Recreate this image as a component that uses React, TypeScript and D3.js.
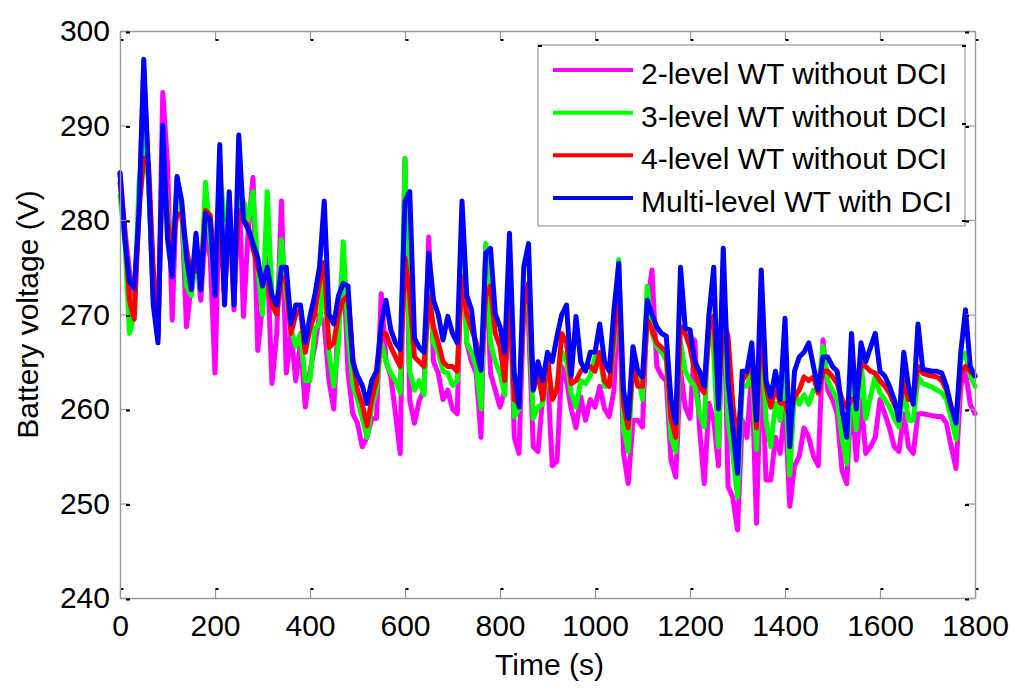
import { useEffect, useRef } from "react";
import * as d3 from "d3";

// sample times (s), every 10 s
const times = d3.range(0, 1801, 10);

const xTickValues = [0, 200, 400, 600, 800, 1000, 1200, 1400, 1600, 1800];
const yTickValues = [240, 250, 260, 270, 280, 290, 300];

const seriesLabels = [
  "2-level WT without DCI",
  "3-level WT without DCI",
  "4-level WT without DCI",
  "Multi-level WT with DCI",
];
const seriesColors = ["#ff00ff", "#00ff00", "#ff0000", "#0000ff"];

// battery voltage (V)
const twoLevel = [
  285, 279, 274.5, 271.5, 281, 296, 285, 272, 267.5, 293.5,
  286, 269.4, 284.5, 281, 268.7, 273, 277, 271.5, 279, 276,
  263.8, 283, 272, 282, 270.5, 284, 269.8, 279, 284.5, 266.2,
  271, 276, 262.7, 268, 282, 263.8, 268, 263, 267, 260.2,
  264, 266.6, 270, 269, 263, 260, 270, 275.5, 264, 259.5,
  258.5, 256, 257, 259, 259, 272.2, 265, 263.5, 259.5, 255.3,
  286.5, 260.9, 258.5, 260.9, 262, 278.2, 265, 263.8, 261, 262,
  260, 259.5, 280, 267, 265, 263.8, 257, 277.2, 263.8, 262,
  260.2, 262, 274.4, 257, 255.3, 270.8, 269.1, 256, 255.5, 261.3,
  263.8, 254, 254.5, 264.5, 263, 260, 258, 261.3, 258.8, 261,
  260.2, 262.4, 260, 259.2, 262, 274, 255.3, 252.1, 258.8, 258.8,
  258.1, 271, 274.7, 264.5, 263.5, 263, 254.6, 252.8, 264, 260.2,
  259, 267.3, 258, 252.1, 260.6, 258.8, 254, 275.8, 251.8, 250.7,
  247.2, 258.8, 257, 264, 247.9, 266.6, 252.5, 252.5, 257, 255.3,
  260.5, 249.7, 254, 255, 258, 257, 255, 254, 267.3, 262,
  261, 259.5, 253.5, 252.1, 261.7, 254.6, 261, 255.3, 256, 257,
  261, 259.5, 258, 256, 255.5, 259.5, 256, 255.3, 259.5, 259.5,
  259.4, 259.3, 259.2, 259.2, 258.5, 256, 253.7, 262.4, 264, 260.5,
  259.5,
];

const threeLevel = [
  282.6, 278, 268, 270, 283.9, 289, 284, 272, 268, 287,
  281, 276, 283, 281, 273, 272, 276, 273, 284, 278,
  272.5, 285, 280, 281, 272, 283, 282, 280, 283, 275,
  270, 283, 272, 270, 277.9, 272, 268.5, 266.6, 268, 263,
  263, 268.5, 269, 274, 266, 262.4, 267, 277.7, 268, 262.5,
  261, 259, 257, 260.2, 262, 267, 265, 263.8, 263, 261.7,
  286.5, 264, 262, 263, 261.5, 274, 267, 266, 264, 263.8,
  262.5, 263, 280, 267, 266, 264.5, 260, 277.5, 267, 265,
  263.8, 261.5, 276.8, 259.2, 260, 270.8, 271.9, 259, 260.2, 260.5,
  264.5, 261, 262.4, 266, 265.2, 261.7, 260.2, 263, 262.7, 263.5,
  265.5, 265.5, 262.4, 262.4, 266.6, 275.8, 258, 255.5, 265, 264,
  261, 273, 268, 266.6, 266, 265.2, 257, 255.5, 267, 264,
  263, 262.4, 259.5, 258.1, 270, 266, 256, 273.7, 258.8, 255.3,
  250.7, 262.4, 262.4, 264, 255.7, 269.4, 258.8, 256, 260.6, 258.8,
  263.4, 253, 262, 260.5, 261.5, 260.5, 262, 262, 266.6, 263,
  262, 261, 257, 254.2, 263, 257.8, 265.2, 259, 261.3, 263.4,
  261.7, 261, 260.2, 259, 258.1, 262.4, 258.8, 258.8, 263.4, 262.7,
  262.5, 262.3, 262, 261.7, 261, 259, 256.8, 265.2, 265.9, 263.5,
  262.4,
];

const fourLevel = [
  284, 279, 271.5, 269.5, 281, 286.5, 286, 275, 268, 287,
  280, 277, 280.7, 280.5, 277, 274, 275, 274, 281, 280.5,
  274, 281, 272, 281, 273, 281, 280, 279.3, 277, 275,
  273.5, 274, 271, 270, 274, 273.5, 268, 270, 270.5, 266,
  268.5, 270, 273.5, 275.5, 266.5, 267, 270, 271.5, 272, 265.5,
  262, 260.5, 258.2, 261, 263, 268, 268, 266.6, 265.5, 264.5,
  276, 272, 265.5, 265, 264.5, 271.9, 268.7, 267, 265, 264.5,
  264.5, 264, 274, 270, 268.5, 267, 264.5, 272, 273, 268,
  266.6, 263, 272.6, 261, 260.6, 271, 273.3, 262, 263.8, 261,
  265.5, 261, 262, 268, 267, 262.7, 263, 264, 264.5, 264.5,
  264, 266, 263, 262.4, 268, 273, 260.5, 258, 264.8, 262.4,
  262.4, 269.4, 268.4, 267, 266.5, 266, 259, 257, 268.7, 268,
  266.5, 264, 262.5, 261.7, 268.4, 269.8, 261, 269.4, 267.7, 260.6,
  256, 263, 263.8, 265.2, 258, 269.4, 262.4, 260.2, 262.4, 260.6,
  260.6, 259, 261.3, 262, 263.4, 263, 263.4, 261.7, 264, 264,
  263.4, 262.7, 261, 260.2, 261, 261, 264.8, 264.5, 264, 263.8,
  263, 262.4, 261.7, 260.5, 259.5, 263, 261, 261, 264.5, 263.8,
  263.6, 263.5, 263.4, 263, 262, 260.2, 259, 263.8, 264.5, 264,
  263.5,
];

const multiLevel = [
  285, 278, 273.5, 272.8, 280.7, 297, 285, 271, 267, 290,
  278, 274, 284.6, 282, 276, 272.6, 278.6, 272.6, 280.7, 280,
  272, 288, 271, 283, 271, 289, 280, 279, 277.5, 276,
  273, 275, 272, 271, 275, 275, 269, 271, 271, 267,
  269.8, 272, 275, 282, 270, 269, 272, 273.3, 273, 265,
  263.5, 262.5, 260.6, 263, 264, 269, 271.5, 268.4, 267, 266.3,
  282, 283, 267.5, 266.5, 266, 276.5, 271.5, 270, 267.3, 269.8,
  268, 267, 282, 272, 270.5, 266, 264.1, 276.5, 277, 270.1,
  268.7, 266, 278.6, 263.8, 260.2, 275, 277.5, 262, 265, 263,
  266, 265, 267.7, 270, 271, 263.5, 269.8, 265, 264, 266,
  266, 269, 265, 264, 270.5, 275.4, 262, 259, 266.6, 264,
  263.4, 271.5, 270, 268.7, 268, 267.7, 261, 258.5, 275, 268.5,
  268.4, 265, 264, 262.4, 270, 275, 260, 277, 263, 258,
  253.2, 264, 264, 267, 258.8, 274.7, 263, 261.3, 264, 261,
  269.6, 256, 264, 265.5, 266, 267, 264.5, 262, 265.5, 265.5,
  264.5, 264, 260, 257, 268, 260, 267, 265, 266.5, 268,
  264, 263.5, 262.4, 261, 258.8, 266, 262.4, 260.5, 269, 264.2,
  264.1, 264, 264, 263.8, 262.4, 260.2, 258.5, 266, 270.5, 264.5,
  263.5,
];

const seriesValues = [twoLevel, threeLevel, fourLevel, multiLevel];

const FONT = "'Liberation Sans', Arial, Helvetica, sans-serif";
const AXIS_GREY = "#9a9a9a";

export default function App() {
  const svgRef = useRef<SVGSVGElement>(null);

  useEffect(() => {
    if (!svgRef.current) return;
    const svg = d3.select(svgRef.current);
    svg.selectAll("*").remove();

    const left = 120;
    const right = 975;
    const top = 31;
    const bottom = 598;

    const x = d3.scaleLinear().domain([0, 1800]).range([left, right]);
    const y = d3.scaleLinear().domain([240, 300]).range([bottom, top]);

    svg
      .append("rect")
      .attr("width", 1024)
      .attr("height", 699)
      .attr("fill", "#fff");

    // lines, blue last so it sits on top
    const line = d3
      .line<number>()
      .x((_, i) => x(times[i]))
      .y((d) => y(d));

    seriesValues.forEach((vals, i) => {
      svg
        .append("path")
        .datum(vals)
        .attr("d", line)
        .attr("fill", "none")
        .attr("stroke", seriesColors[i])
        .attr("stroke-width", 5)
        .attr("stroke-linejoin", "round")
        .attr("stroke-linecap", "round");
    });

    const styleAxis = (g: d3.Selection<SVGGElement, unknown, null, undefined>) => {
      g.select(".domain").attr("stroke", AXIS_GREY).attr("stroke-width", 1.4);
      g.selectAll(".tick line").attr("stroke", AXIS_GREY).attr("stroke-width", 1.2);
      g.selectAll(".tick text")
        .attr("fill", "#000")
        .attr("font-size", "30px")
        .attr("font-family", FONT);
    };

    // bottom
    const gx = svg
      .append("g")
      .attr("transform", `translate(0,${bottom})`)
      .call(
        d3
          .axisBottom(x)
          .tickValues(xTickValues)
          .tickSizeInner(-9)
          .tickSizeOuter(0)
          .tickPadding(17)
          .tickFormat(d3.format("d"))
      );
    styleAxis(gx);
    gx.selectAll(".tick")
      .append("line")
      .attr("x1", 0)
      .attr("x2", 3)
      .attr("y1", -9)
      .attr("y2", -9)
      .attr("stroke", "#000")
      .attr("stroke-width", 2);

    // top
    const gt = svg
      .append("g")
      .attr("transform", `translate(0,${top})`)
      .call(
        d3
          .axisTop(x)
          .tickValues(xTickValues)
          .tickSizeInner(-9)
          .tickSizeOuter(0)
          .tickFormat(() => "")
      );
    styleAxis(gt);
    gt.selectAll(".tick")
      .append("line")
      .attr("x1", 0)
      .attr("x2", 3)
      .attr("y1", 9)
      .attr("y2", 9)
      .attr("stroke", "#000")
      .attr("stroke-width", 2);

    // left
    const gy = svg
      .append("g")
      .attr("transform", `translate(${left},0)`)
      .call(
        d3
          .axisLeft(y)
          .tickValues(yTickValues)
          .tickSizeInner(-9)
          .tickSizeOuter(0)
          .tickPadding(10)
          .tickFormat(d3.format("d"))
      );
    styleAxis(gy);
    gy.selectAll(".tick")
      .append("line")
      .attr("x1", 6)
      .attr("x2", 10)
      .attr("y1", 1)
      .attr("y2", 1)
      .attr("stroke", "#000")
      .attr("stroke-width", 2);

    // right
    const gr = svg
      .append("g")
      .attr("transform", `translate(${right},0)`)
      .call(
        d3
          .axisRight(y)
          .tickValues(yTickValues)
          .tickSizeInner(-9)
          .tickSizeOuter(0)
          .tickFormat(() => "")
      );
    styleAxis(gr);
    gr.selectAll(".tick")
      .append("line")
      .attr("x1", -10)
      .attr("x2", -6)
      .attr("y1", 1)
      .attr("y2", 1)
      .attr("stroke", "#000")
      .attr("stroke-width", 2);

    // axis titles
    svg
      .append("text")
      .attr("x", (left + right) / 2 + 2)
      .attr("y", 675)
      .attr("text-anchor", "middle")
      .attr("font-size", "30px")
      .attr("font-family", FONT)
      .attr("fill", "#000")
      .text("Time (s)");

    svg
      .append("text")
      .attr("transform", `translate(38,${(top + bottom) / 2}) rotate(-90)`)
      .attr("text-anchor", "middle")
      .attr("font-size", "30px")
      .attr("font-family", FONT)
      .attr("fill", "#000")
      .text("Battery voltage (V)");

    // legend
    const lg = svg.append("g");
    lg.append("rect")
      .attr("x", 538)
      .attr("y", 45)
      .attr("width", 427)
      .attr("height", 181)
      .attr("fill", "#fff")
      .attr("stroke", AXIS_GREY)
      .attr("stroke-width", 1.2);
    [46, 124, 221].forEach((ty) => {
      lg.append("line")
        .attr("x1", 962)
        .attr("x2", 966)
        .attr("y1", ty)
        .attr("y2", ty)
        .attr("stroke", "#000")
        .attr("stroke-width", 2);
    });
    lg.append("line")
      .attr("x1", 538)
      .attr("x2", 542)
      .attr("y1", 46)
      .attr("y2", 46)
      .attr("stroke", "#000")
      .attr("stroke-width", 2);

    const rowY = d3.scaleLinear().domain([0, 3]).range([70, 198]);
    seriesLabels.forEach((label, i) => {
      const ry = rowY(i);
      lg.append("line")
        .attr("x1", 553)
        .attr("x2", 633)
        .attr("y1", ry)
        .attr("y2", ry)
        .attr("stroke", seriesColors[i])
        .attr("stroke-width", 4);
      lg.append("text")
        .attr("x", 641)
        .attr("y", ry + 14)
        .attr("font-size", "30px")
        .attr("font-family", FONT)
        .attr("fill", "#000")
        .text(label);
    });
  }, []);

  return (
    <div style={{ position: "absolute", left: 0, top: 0 }}>
      <svg ref={svgRef} width={1024} height={699} />
    </div>
  );
}
